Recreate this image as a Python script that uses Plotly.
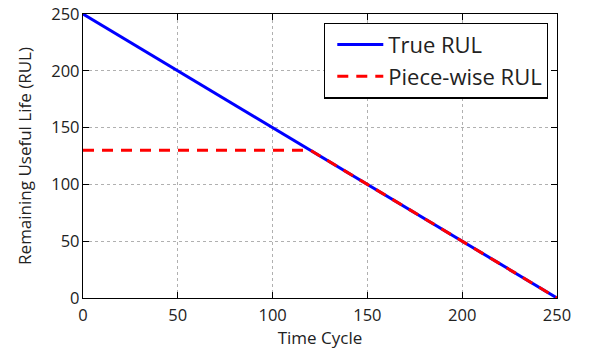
import plotly.graph_objects as go

time_true = [0, 250]
rul_true = [250, 0]
time_pw = [0, 120, 250]
rul_pw = [130, 130, 0]
tick_vals = [0, 50, 100, 150, 200, 250]

FONT = "Open Sans"

fig = go.Figure()
fig.add_trace(go.Scatter(x=time_true, y=rul_true, mode="lines", name="True RUL",
                         legendgroup="a",
                         line=dict(color="#0000ff", width=3)))
fig.add_trace(go.Scatter(x=time_pw, y=rul_pw, mode="lines", name="Piece-wise RUL",
                         legendgroup="b",
                         line=dict(color="#ff0000", width=3, dash="11px,8px")))

axis_common = dict(
    range=[0, 250], tickvals=tick_vals, ticks="inside", ticklen=6, tickwidth=1,
    tickcolor="black", mirror="allticks", showline=True, linecolor="black", linewidth=1.3,
    showgrid=True, gridcolor="#b0b0b0", griddash="dot", gridwidth=1, zeroline=False,
    automargin=False,
    tickfont=dict(family=FONT, size=16.5, color="#222222"),
)
fig.update_xaxes(**axis_common, ticklabelstandoff=2,
                 title=dict(text="Time Cycle", standoff=4,
                 font=dict(family=FONT, size=17, color="#222222")))
fig.update_yaxes(**axis_common, ticklabelstandoff=-1,
                 title=dict(text="Remaining Useful Life (RUL)", standoff=15,
                 font=dict(family=FONT, size=17, color="#222222")))

fig.update_layout(
    width=592, height=351,
    margin=dict(l=83, r=35, t=14, b=53, autoexpand=False),
    plot_bgcolor="white", paper_bgcolor="white",
    legend=dict(x=0.981, y=0.97, xanchor="right", yanchor="top",
                bgcolor="white", bordercolor="black", borderwidth=1.3,
                font=dict(family=FONT, size=22, color="#222222"),
                itemwidth=46, indentation=7, tracegroupgap=0),
    showlegend=True,
)
fig.write_html("out.html", config={"displayModeBar": False},
               post_script="document.body.style.margin='0';document.body.style.overflow='hidden';")
